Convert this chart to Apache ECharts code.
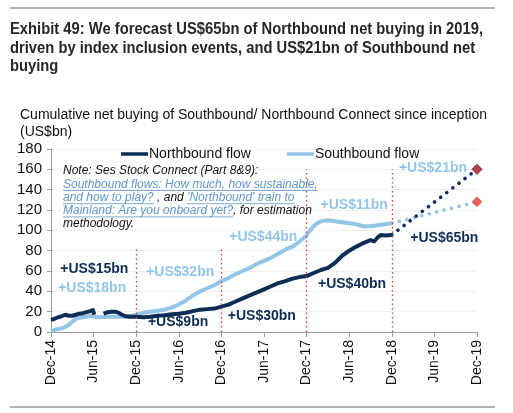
<!DOCTYPE html>
<html>
<head>
<meta charset="utf-8">
<script src="https://cdn.jsdelivr.net/npm/echarts@6/dist/echarts.min.js"></script>
<style>
html,body{margin:0;padding:0;background:#fff;}
#chart{width:513px;height:413px;}
</style>
</head>
<body>
<div id="chart"></div>
<script>
// ---------- DATA ----------
const tickLabels = ['Dec-14','Jun-15','Dec-15','Jun-16','Dec-16','Jun-17','Dec-17','Jun-18','Dec-18','Jun-19','Dec-19'];
const seriesNames = ['Northbound flow', 'Southbound flow'];

// months since Dec-14
const northMonths = [0,0.5,1,1.5,2,2.5,3,3.5,4,4.5,5,5.5,5.9,6.1,6.5,7.4,8,8.5,9,9.5,10,10.5,11,11.5,12,13,14,15,16,17,18,19,20,21,22,23,24,25,26,27,28,29,30,31,32,33,34,35,36,37,38,39,40,41,42,43,44,45,45.5,46,46.5,47,48];
const northVals   = [12,13,14.5,15.5,17,16,16,17,18,18.5,19.5,20.5,21.5,17,'-',18,19.5,20,20,19,17,15.5,15,15,15,14.5,15,16,16.5,17.5,18,19,20.5,22,22.5,23,25,27,30,33,36,39,42,45,48,50,52.5,54,55,58,61,63,68,75,80,84,87.5,90.5,89,93,95.5,95,95.5];

const southMonths = [0,0.5,1,1.5,2,2.5,3,3.5,4,4.5,5,5.5,6,6.5,7,8,9,10,11,12,13,14,15,16,17,18,19,20,21,22,23,24,25,26,27,28,29,30,31,32,33,34,35,36,36.5,37,37.5,38,39,40,41,42,43,44,45,46,47,48];
const southVals   = [1,2,3,3.5,5,7,10,13,14,14.5,15,16,15.5,14.5,14.5,15,15,15,15.5,17,19,20,21,22,24,27,31,36,40,43,46,50,53,57,60,63,67,70,73,77,81,84,89,95,100,104,107,109,110,109,108,107,106,104,104,105,106,107];

const forecastMonths = [48, 60];
const northForecast = [95.5, 160];
const southForecast = [107, 128];

// annual increments: [text, month, value, series]
const annotations = [
  ['+US$15bn', 6.1, 62, 0],
  ['+US$18bn', 5.8, 43.4, 1],
  ['+US$32bn', 18.2, 59.2, 1],
  ['+US$9bn', 17.9, 9.9, 0],
  ['+US$30bn', 29.7, 15.8, 0],
  ['+US$44bn', 29.9, 93.7, 1],
  ['+US$40bn', 42.4, 47.3, 0],
  ['+US$11bn', 42.7, 124.3, 1],
  ['+US$21bn', 53.8, 160.8, 1],
  ['+US$65bn', 55.4, 92.7, 0]
];

// year-end separators: [month, top value]
const separators = [[12, 83], [24, 83], [36, 160], [48, 160]];

const titleLines = [
  'Exhibit 49: We forecast US$65bn of Northbound net buying in 2019,',
  'driven by index inclusion events, and US$21bn of Southbound net',
  'buying'
];
const subtitleLines = [
  'Cumulative net buying of Southbound/ Northbound Connect since inception',
  '(US$bn)'
];
const noteLines = [
  [['Note: Ses Stock Connect (Part 8&9):', 0]],
  [['Southbound flows: How much, how sustainable,', 1]],
  [['and how to play? ', 1], [', and ', 0], ["'Northbound' train to", 1]],
  [['Mainland: Are you onboard yet?', 1], [', for estimation', 0]],
  [['methodology.', 0]]
];

// ---------- STYLE ----------
const NAVY = '#0c2d55';
const LIGHT = '#93c6e6';
const LINK = '#5f97cc';
const FONT = '"Liberation Sans", Arial, sans-serif';

const zip = (xs, ys) => xs.map((x, i) => [x, ys[i]]);

const ctx = document.createElement('canvas').getContext('2d');
const graphics = [];

// title, horizontally condensed to mimic a narrow bold face
const titleFont = 'bold 17px ' + FONT;
ctx.font = titleFont;
const titleScale = 473 / ctx.measureText(titleLines[0]).width;
titleLines.forEach((t, i) => {
  graphics.push({type:'text', x:10, y:21 + i*18.5, scaleX:titleScale, originX:0, originY:0, silent:true, z:20,
    style:{text:t, font:titleFont, fill:'#262626', textVerticalAlign:'top', verticalAlign:'top'}});
});

subtitleLines.forEach((t, i) => {
  graphics.push({type:'text', x:20, y:108 + i*17, silent:true, z:20,
    style:{text:t, font:'14px ' + FONT, fill:'#111', verticalAlign:'top', textVerticalAlign:'top'}});
});

// note with underlined links
const noteFont = 'italic 12px ' + FONT;
ctx.font = noteFont;
const noteX = 63, noteY0 = 165, noteLH = 13.2;
noteLines.forEach((segs, li) => {
  let x = noteX;
  const y = noteY0 + li * noteLH;
  segs.forEach(([t, link]) => {
    const w = ctx.measureText(t).width;
    graphics.push({type:'text', x:x, y:y, silent:true, z:20,
      style:{text:t, font:noteFont, fill: link ? LINK : '#111', verticalAlign:'top', textVerticalAlign:'top'}});
    if (link) {
      const tw = ctx.measureText(t.replace(/\s+$/,'')).width;
      graphics.push({type:'line', silent:true, z:20,
        shape:{x1:x, y1:y+12.3, x2:x+tw, y2:y+12.3},
        style:{stroke:LINK, lineWidth:0.8}});
    }
    x += w;
  });
});

graphics.push({type:'line', silent:true, shape:{x1:10,y1:8,x2:495,y2:8}, style:{stroke:'#9a9a9a', lineWidth:1.5}});
graphics.push({type:'line', silent:true, shape:{x1:10,y1:407,x2:495,y2:407}, style:{stroke:'#9a9a9a', lineWidth:1.5}});

const chart = echarts.init(document.getElementById('chart'), null, {renderer:'canvas'});
chart.setOption({
  animation:false,
  backgroundColor:'#fff',
  graphic: graphics,
  legend:{
    data: seriesNames,
    left: 116, top: 142,
    icon:'rect', itemWidth:27, itemHeight:3.5, itemGap:36,
    textStyle:{fontSize:14, fontFamily:FONT, color:'#111', padding:[0,0,0,-4]}
  },
  grid:{left:51, right:36, top:149, bottom:81},
  xAxis:{
    type:'value', min:0, max:60, interval:6,
    axisLine:{show:true, lineStyle:{color:'#999', width:1}},
    axisTick:{show:true, length:5, lineStyle:{color:'#999'}},
    splitLine:{show:false},
    axisLabel:{rotate:90, margin:8, fontSize:14, fontFamily:FONT, color:'#111',
      formatter: v => tickLabels[Math.round(v/6)] || ''}
  },
  yAxis:{
    type:'value', min:0, max:180, interval:20,
    axisLine:{show:true, lineStyle:{color:'#999', width:1}},
    axisTick:{show:true, length:4, lineStyle:{color:'#999'}},
    splitLine:{show:true, lineStyle:{color:'#f0f0f0', width:1}},
    axisLabel:{margin:9, fontSize:15, fontFamily:FONT, color:'#111'}
  },
  series:[
    {
      name: seriesNames[1], type:'line', data: zip(southMonths, southVals),
      showSymbol:false, symbol:'none', color: LIGHT, z:2,
      lineStyle:{width:4, color:LIGHT, join:'round'},
      markLine:{
        silent:true, symbol:['none','none'], label:{show:false},
        lineStyle:{color:'#d9433f', type:[1.5,3], width:1.4},
        data: separators.map(([m, top]) => [{coord:[m, 0]}, {coord:[m, top]}])
      }
    },
    {
      name: seriesNames[0], type:'line', data: zip(northMonths, northVals),
      showSymbol:false, symbol:'none', color: NAVY, z:3, connectNulls:false,
      lineStyle:{width:4, color:NAVY, join:'round'}
    },
    {
      name:'south forecast', type:'line', data: zip(forecastMonths, southForecast),
      symbol:'none', z:2,
      lineStyle:{width:3.6, color:LIGHT, type:[0.1, 7.6], cap:'round'}
    },
    {
      name:'north forecast', type:'line', data: zip(forecastMonths, northForecast),
      symbol:'none', z:3,
      lineStyle:{width:3.6, color:NAVY, type:[0.1, 7.6], cap:'round'}
    },
    {
      name:'forecast end', type:'scatter', symbol:'diamond', symbolSize:10, z:5,
      itemStyle:{opacity:1},
      data:[
        {value:[forecastMonths[1], northForecast[1]], itemStyle:{color:'#b5414d', borderColor:'#6a2a30', borderWidth:1, opacity:1}},
        {value:[forecastMonths[1], southForecast[1]], itemStyle:{color:'#e5605e', borderColor:'#d04a4a', borderWidth:0.5, opacity:1}}
      ]
    },
    {
      name:'annotations', type:'scatter', symbolSize:0, z:6, silent:true,
      itemStyle:{opacity:1},
      data: annotations.map(([t, m, v, s]) => ({
        value:[m, v],
        label:{show:true, position:'inside', formatter:t, textBorderWidth:0,
          color: s === 0 ? NAVY : LIGHT, fontSize:14, fontWeight:'bold', fontFamily:FONT}
      }))
    }
  ]
});
</script>
</body>
</html>
